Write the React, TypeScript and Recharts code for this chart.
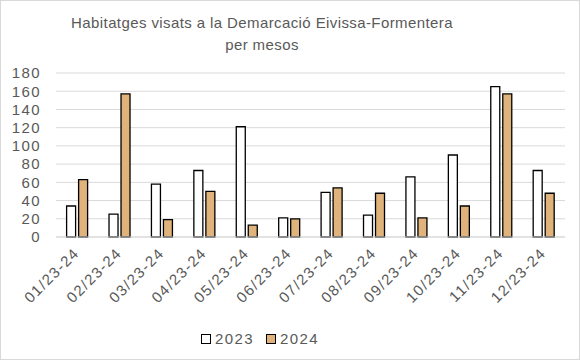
import { BarChart, Bar, XAxis, YAxis, CartesianGrid, Legend } from "recharts"

// mesos (eix X)
const months = [
  "01/23-24", "02/23-24", "03/23-24", "04/23-24", "05/23-24", "06/23-24",
  "07/23-24", "08/23-24", "09/23-24", "10/23-24", "11/23-24", "12/23-24",
]
const values2023 = [34, 25, 58, 73, 121, 21, 49, 24, 66, 90, 165, 73]
const values2024 = [63, 157, 19, 50, 13, 20, 54, 48, 21, 34, 157, 48]
const yTicks = [0, 20, 40, 60, 80, 100, 120, 140, 160, 180]

const data = months.map((m, i) => ({ month: m, y2023: values2023[i], y2024: values2024[i] }))

const FONT = "'Liberation Sans', Arial, sans-serif"
const GREY = "#595959"
const TAN = "#DFB37B"

const MonthTick = (props: any) => {
  const { x, y, payload } = props
  const ax = x + 3
  const ay = y + 9
  return (
    <text
      x={ax}
      y={ay}
      textAnchor="end"
      transform={`rotate(-45, ${ax}, ${ay})`}
      fill={GREY}
      fontSize={15}
      fontFamily={FONT}
      letterSpacing={1.4}
    >
      {payload.value}
    </text>
  )
}

const LegendContent = () => (
  <div style={{ display: "flex", justifyContent: "center", fontFamily: FONT, fontSize: 15, color: GREY, letterSpacing: 1.4, lineHeight: "18px" }}>
    <span style={{ display: "inline-flex", alignItems: "center", marginRight: 12 }}>
      <span style={{ width: 8, height: 8, border: "1px solid #000", background: "#fff", marginRight: 4 }} />
      2023
    </span>
    <span style={{ display: "inline-flex", alignItems: "center" }}>
      <span style={{ width: 8, height: 8, border: "1px solid #000", background: TAN, marginRight: 4 }} />
      2024
    </span>
  </div>
)

export default function App() {
  return (
    <div
      style={{
        position: "fixed",
        left: 0,
        top: 0,
        width: 580,
        height: 360,
        boxSizing: "border-box",
        border: "1px solid #d9d9d9",
        background: "#fff",
      }}
    >
      <div
        style={{
          position: "absolute",
          left: 0,
          top: 11,
          width: 522,
          textAlign: "center",
          fontFamily: FONT,
          fontSize: 15,
          lineHeight: "22px",
          color: GREY,
          letterSpacing: 0.4,
        }}
      >
        Habitatges visats a la Demarcació Eivissa-Formentera
        <br />
        per mesos
      </div>
      <div style={{ position: "absolute", left: -1, top: -1 }}>
        <BarChart
          width={580}
          height={360}
          data={data}
          margin={{ top: 73, right: 15, left: 0, bottom: 0 }}
          barCategoryGap="25%"
          barGap={3}
        >
          <CartesianGrid vertical={false} stroke="#d9d9d9" />
          <XAxis
            dataKey="month"
            tick={<MonthTick />}
            tickLine={false}
            axisLine={{ stroke: "#d9d9d9" }}
            interval={0}
            height={93}
          />
          <YAxis
            domain={[0, 180]}
            ticks={yTicks}
            interval={0}
            width={56}
            tickLine={false}
            axisLine={false}
            tickMargin={9}
            tick={{ fill: GREY, fontSize: 15, fontFamily: FONT, letterSpacing: 1.4 }}
          />
          <Legend verticalAlign="bottom" height={30} content={<LegendContent />} wrapperStyle={{ left: 50, width: 420 }} />
          <Bar dataKey="y2023" name="2023" fill="#fff" stroke="#000" strokeWidth={1.3} isAnimationActive={false} />
          <Bar dataKey="y2024" name="2024" fill={TAN} stroke="#000" strokeWidth={1.3} isAnimationActive={false} />
        </BarChart>
      </div>
    </div>
  )
}
